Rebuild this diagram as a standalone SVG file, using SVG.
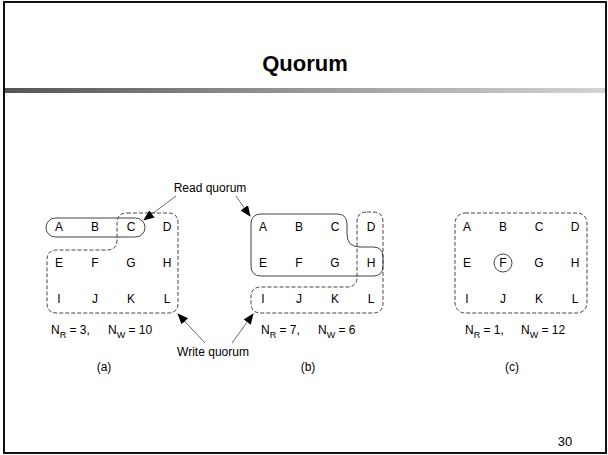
<svg xmlns="http://www.w3.org/2000/svg" width="608" height="455" viewBox="0 0 608 455">
<defs>
<linearGradient id="sep" x1="0" y1="0" x2="1" y2="0">
<stop offset="0" stop-color="#555"/>
<stop offset="0.5" stop-color="#999"/>
<stop offset="1" stop-color="#d4d4d4"/>
</linearGradient>
<marker id="ah" markerWidth="11" markerHeight="9" refX="10" refY="4.5" orient="auto" markerUnits="userSpaceOnUse">
<path d="M0,0 L11,4.5 L0,9 Z" fill="#000"/>
</marker>
</defs>
<style>
text{font-family:"Liberation Sans",Arial,sans-serif;fill:#000}
.l{font-size:12px;text-anchor:middle}
.t{font-size:12px}
.s{font-size:9px}
.solid{fill:none;stroke:#444;stroke-width:1}
.dash{fill:none;stroke:#444;stroke-width:1;stroke-dasharray:4,2}
.arr{stroke:#444;stroke-width:0.8;fill:none;marker-end:url(#ah)}
</style>
<rect x="0" y="0" width="608" height="455" fill="#fff"/>
<rect x="4" y="2" width="602" height="451" fill="none" stroke="#111" stroke-width="2"/>
<text x="305" y="71" font-size="22" font-weight="bold" text-anchor="middle">Quorum</text>
<rect x="5" y="88" width="600" height="5" fill="url(#sep)"/>

<g id="grid-a">
<text class="l" x="59" y="231">A</text><text class="l" x="95" y="231">B</text><text class="l" x="131" y="231">C</text><text class="l" x="167" y="231">D</text>
<text class="l" x="59" y="267">E</text><text class="l" x="95" y="267">F</text><text class="l" x="131" y="267">G</text><text class="l" x="167" y="267">H</text>
<text class="l" x="59" y="303">I</text><text class="l" x="95" y="303">J</text><text class="l" x="131" y="303">K</text><text class="l" x="167" y="303">L</text>
</g>
<g id="read-a"><rect class="solid" x="46" y="218" width="99" height="19" rx="9.5"/></g>
<g id="write-a"><path class="dash" d="M127,213 H168 Q178,213 178,223 V303 Q178,313 168,313 H57 Q47,313 47,303 V260 Q47,250 57,250 H107 Q117,250 117,240 V223 Q117,213 127,213 Z"/></g>
<g id="label-a">
<text class="t" x="51" y="334">N<tspan class="s" dy="4">R</tspan><tspan dy="-4"> = 3,</tspan></text>
<text class="t" x="108" y="334">N<tspan class="s" dy="4">W</tspan><tspan dy="-4"> = 10</tspan></text>
<text class="l" x="104" y="371">(a)</text>
</g>

<g id="grid-b">
<text class="l" x="263" y="231">A</text><text class="l" x="299" y="231">B</text><text class="l" x="335" y="231">C</text><text class="l" x="371" y="231">D</text>
<text class="l" x="263" y="267">E</text><text class="l" x="299" y="267">F</text><text class="l" x="335" y="267">G</text><text class="l" x="371" y="267">H</text>
<text class="l" x="263" y="303">I</text><text class="l" x="299" y="303">J</text><text class="l" x="335" y="303">K</text><text class="l" x="371" y="303">L</text>
</g>
<g id="read-b"><path class="solid" d="M261,214 H337 Q347,214 347,224 V234 Q347,247 360,247 H373 Q383,247 383,257 V266 Q383,276 373,276 H261 Q251,276 251,266 V224 Q251,214 261,214 Z"/></g>
<g id="write-b"><path class="dash" d="M367,212 H373 Q383,212 383,222 V303 Q383,313 373,313 H261 Q251,313 251,303 V297 Q251,287 261,287 H347 Q357,287 357,277 V222 Q357,212 367,212 Z"/></g>
<g id="label-b">
<text class="t" x="261" y="334">N<tspan class="s" dy="4">R</tspan><tspan dy="-4"> = 7,</tspan></text>
<text class="t" x="318" y="334">N<tspan class="s" dy="4">W</tspan><tspan dy="-4"> = 6</tspan></text>
<text class="l" x="308" y="371">(b)</text>
</g>

<g id="grid-c">
<text class="l" x="467" y="231">A</text><text class="l" x="503" y="231">B</text><text class="l" x="539" y="231">C</text><text class="l" x="575" y="231">D</text>
<text class="l" x="467" y="267">E</text><text class="l" x="503" y="267">F</text><text class="l" x="539" y="267">G</text><text class="l" x="575" y="267">H</text>
<text class="l" x="467" y="303">I</text><text class="l" x="503" y="303">J</text><text class="l" x="539" y="303">K</text><text class="l" x="575" y="303">L</text>
</g>
<g id="read-c"><circle class="solid" cx="503" cy="263" r="9"/></g>
<g id="write-c"><rect class="dash" x="455" y="213" width="132" height="100" rx="10"/></g>
<g id="label-c">
<text class="t" x="465" y="334">N<tspan class="s" dy="4">R</tspan><tspan dy="-4"> = 1,</tspan></text>
<text class="t" x="521" y="334">N<tspan class="s" dy="4">W</tspan><tspan dy="-4"> = 12</tspan></text>
<text class="l" x="512" y="371">(c)</text>
</g>

<g id="read-label"><text class="l" x="210" y="192">Read quorum</text></g>
<g id="write-label"><text class="l" x="213" y="356">Write quorum</text></g>

<g id="connectors">
<line class="arr" x1="176" y1="196" x2="144" y2="220"/>
<line class="arr" x1="236" y1="196" x2="250" y2="216"/>
<line class="arr" x1="205" y1="343" x2="178" y2="314"/>
<line class="arr" x1="232" y1="343" x2="253" y2="314"/>
</g>

<g id="page"><text x="565" y="446" font-size="13" text-anchor="middle">30</text></g>
</svg>
